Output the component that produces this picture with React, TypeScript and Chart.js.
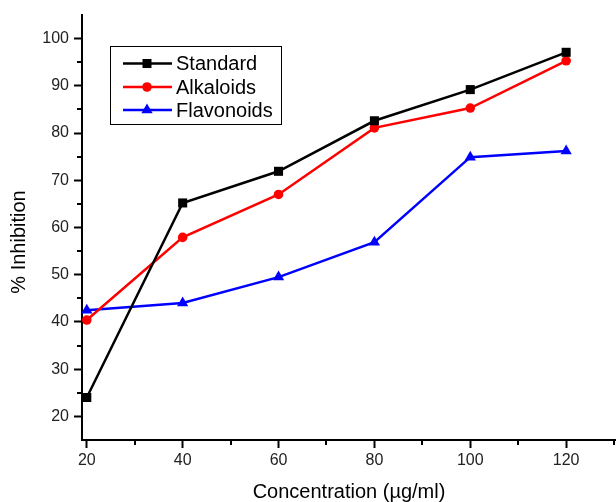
import React, { useEffect, useRef } from "react";
import { Chart, registerables } from "chart.js";

Chart.register(...registerables);

const concentrations = [20, 40, 60, 80, 100, 120];
const standard = [24.0, 65.2, 71.9, 82.6, 89.2, 97.1];
const alkaloids = [40.4, 57.9, 67.0, 81.1, 85.3, 95.3];
const flavonoids = [42.5, 44.0, 49.5, 56.9, 74.9, 76.2];

const seriesNames = ["Standard", "Alkaloids", "Flavonoids"];
const seriesColors = ["#000000", "#ff0000", "#0000ff"];
const seriesMarkers = ["rect", "circle", "triangle"];

const xMajorTicks = [20, 40, 60, 80, 100, 120];
const xMinorTicks = [30, 50, 70, 90, 110, 130];
const yMajorTicks = [20, 30, 40, 50, 60, 70, 80, 90, 100];
const yMinorTicks = [25, 35, 45, 55, 65, 75, 85, 95];

const xTitle = "Concentration (µg/ml)";
const yTitle = "% Inhibition";

const FONT = '"Liberation Sans", Arial, sans-serif';

function drawMarker(ctx: CanvasRenderingContext2D, style: string, x: number, y: number, color: string) {
  ctx.save();
  ctx.fillStyle = color;
  ctx.beginPath();
  if (style === "rect") {
    ctx.rect(x - 4.5, y - 4.5, 9, 9);
  } else if (style === "circle") {
    ctx.arc(x, y, 4.8, 0, Math.PI * 2);
  } else {
    const r = 6.5;
    ctx.moveTo(x, y - r);
    ctx.lineTo(x + r * Math.sin(Math.PI / 3), y + r * 0.5);
    ctx.lineTo(x - r * Math.sin(Math.PI / 3), y + r * 0.5);
    ctx.closePath();
  }
  ctx.fill();
  ctx.restore();
}

const decorPlugin = {
  id: "decor",
  afterDraw(chart: any) {
    const ctx: CanvasRenderingContext2D = chart.ctx;
    const xs = chart.scales.x;
    const ys = chart.scales.y;
    const area = chart.chartArea;
    ctx.save();
    // minor ticks
    ctx.strokeStyle = "#000";
    ctx.lineWidth = 2;
    ctx.beginPath();
    for (const v of xMinorTicks) {
      const px = Math.round(xs.getPixelForValue(v));
      ctx.moveTo(px, area.bottom);
      ctx.lineTo(px, area.bottom + 5);
    }
    for (const v of yMinorTicks) {
      const py = Math.round(ys.getPixelForValue(v));
      ctx.moveTo(area.left, py);
      ctx.lineTo(area.left - 5, py);
    }
    ctx.stroke();

    // axis titles
    ctx.fillStyle = "#000";
    ctx.font = `20px ${FONT}`;
    ctx.textAlign = "center";
    ctx.textBaseline = "middle";
    ctx.fillText(xTitle, (area.left + area.right) / 2, 492);
    ctx.save();
    ctx.translate(19, 242);
    ctx.rotate(-Math.PI / 2);
    ctx.fillText(yTitle, 0, 0);
    ctx.restore();

    // legend
    const bx = 110.5, by = 46.5, bw = 171, bh = 78;
    ctx.fillStyle = "#fff";
    ctx.fillRect(bx, by, bw, bh);
    ctx.strokeStyle = "#000";
    ctx.lineWidth = 1;
    ctx.strokeRect(bx, by, bw, bh);
    const rows = [63.5, 87, 110];
    ctx.font = `20px ${FONT}`;
    ctx.textAlign = "left";
    ctx.textBaseline = "middle";
    seriesNames.forEach((name, i) => {
      const y = rows[i];
      ctx.strokeStyle = seriesColors[i];
      ctx.lineWidth = 2.5;
      ctx.beginPath();
      ctx.moveTo(123, y);
      ctx.lineTo(172, y);
      ctx.stroke();
      drawMarker(ctx, seriesMarkers[i], 147, y, seriesColors[i]);
      ctx.fillStyle = "#000";
      ctx.fillText(name, 176, y + 1);
    });
    ctx.restore();
  },
};

export default function App() {
  const canvasRef = useRef<HTMLCanvasElement | null>(null);

  useEffect(() => {
    const canvas = canvasRef.current;
    if (!canvas) return;
    const mk = (vals: number[]) => concentrations.map((x, i) => ({ x, y: vals[i] }));
    const allData = [standard, alkaloids, flavonoids];
    const chart = new Chart(canvas, {
      type: "line",
      data: {
        datasets: seriesNames.map((name, i) => ({
          label: name,
          data: mk(allData[i]),
          borderColor: seriesColors[i],
          backgroundColor: seriesColors[i],
          borderWidth: 2.5,
          pointStyle: seriesMarkers[i] as any,
          pointRadius: seriesMarkers[i] === "rect" ? 6.4 : seriesMarkers[i] === "circle" ? 4.8 : 6.5,
          pointBorderWidth: 0,
          pointHoverRadius: 6,
          tension: 0,
          clip: false as any,
        })),
      },
      options: {
        animation: false,
        responsive: false,
        maintainAspectRatio: false,
        events: [],
        layout: { autoPadding: false, padding: { left: 0, top: 15, right: 0, bottom: 0 } },
        plugins: {
          legend: { display: false },
          tooltip: { enabled: false },
          title: { display: false },
        },
        scales: {
          x: {
            type: "linear",
            min: 19,
            max: 130.4,
            afterFit: (s: any) => {
              s.height = 62;
              s.paddingLeft = 0;
              s.paddingRight = 0;
            },
            afterBuildTicks: (s: any) => {
              s.ticks = xMajorTicks.map((v) => ({ value: v }));
            },
            grid: {
              display: true,
              drawOnChartArea: false,
              drawTicks: true,
              tickLength: 8,
              tickWidth: 2,
              tickColor: "#000",
            },
            border: { display: true, color: "#000", width: 2 },
            ticks: {
              color: "#222",
              font: { family: FONT, size: 16 },
              padding: 3,
              maxRotation: 0,
              autoSkip: false,
            },
          },
          y: {
            type: "linear",
            min: 15,
            max: 105,
            afterFit: (s: any) => {
              s.width = 82;
              s.paddingTop = 0;
              s.paddingBottom = 0;
            },
            afterBuildTicks: (s: any) => {
              s.ticks = yMajorTicks.map((v) => ({ value: v }));
            },
            grid: {
              display: true,
              drawOnChartArea: false,
              drawTicks: true,
              tickLength: 8,
              tickWidth: 2,
              tickColor: "#000",
            },
            border: { display: true, color: "#000", width: 2 },
            ticks: {
              color: "#222",
              font: { family: FONT, size: 16 },
              padding: 5,
              autoSkip: false,
            },
          },
        },
      },
      plugins: [decorPlugin],
    });
    return () => chart.destroy();
  }, []);

  return (
    <div style={{ position: "absolute", left: 0, top: 0, width: 616, height: 502, background: "#fff" }}>
      <canvas ref={canvasRef} width={616} height={502} style={{ display: "block" }} />
    </div>
  );
}
